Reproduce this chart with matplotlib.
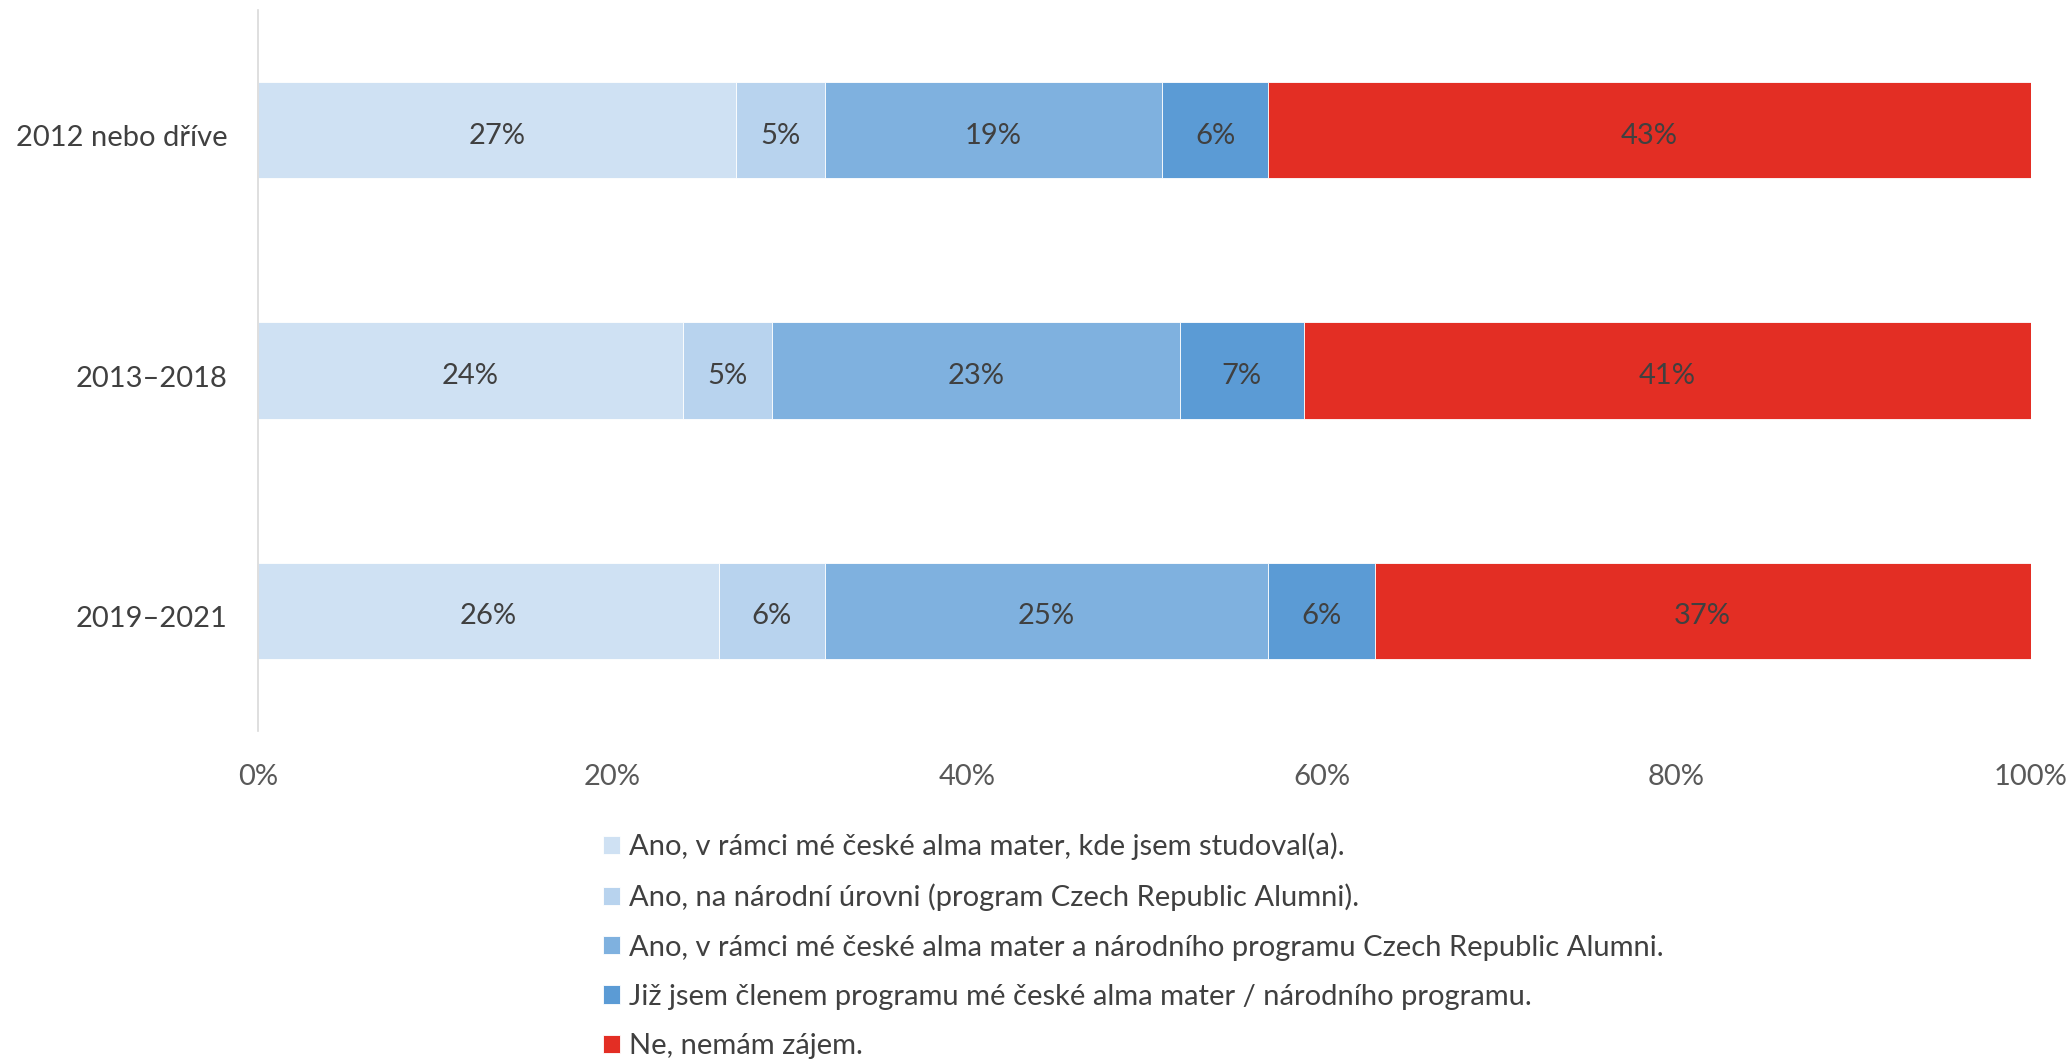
import numpy as np
import matplotlib.pyplot as plt
from matplotlib.transforms import ScaledTranslation

plt.rcParams['font.family'] = ['Lato', 'DejaVu Sans']

# kohorty absolventů (shora dolů)
kohorty = ['2012 nebo dříve', '2013–2018', '2019–2021']

odpovedi = [
    'Ano, v rámci mé české alma mater, kde jsem studoval(a).',
    'Ano, na národní úrovni (program Czech Republic Alumni).',
    'Ano, v rámci mé české alma mater a národního programu Czech Republic Alumni.',
    'Již jsem členem programu mé české alma mater / národního programu.',
    'Ne, nemám zájem.',
]

# podíly odpovědí v % pro každou kohortu
alma_mater = [27, 24, 26]
narodni = [5, 5, 6]
oboje = [19, 23, 25]
uz_clenem = [6, 7, 6]
nezajem = [43, 41, 37]

barvy = ['#CFE1F3', '#B8D3EE', '#7FB1DF', '#5B9BD5', '#E32E24']

serie = [alma_mater, narodni, oboje, uz_clenem, nezajem]

fig = plt.figure(figsize=(20.72, 10.6), dpi=100)
ax = fig.add_axes([0.1244, 0.3104, 0.8556, 0.6802])

# popisky o kousek níž, aby seděly opticky uprostřed pruhu
posun = ScaledTranslation(0, -4 / 72, fig.dpi_scale_trans)

y = np.arange(len(kohorty))
vlevo = np.zeros(len(kohorty))
for hodnoty, barva, popis in zip(serie, barvy, odpovedi):
    hodnoty = np.array(hodnoty, dtype=float)
    ax.barh(y, hodnoty, left=vlevo, height=0.4, color=barva,
            edgecolor='white', linewidth=0.6, label=popis)
    for yi, l, h in zip(y, vlevo, hodnoty):
        ax.text(l + h / 2, yi, f'{h:.0f}%', ha='center', va='center',
                fontsize=21, color='#404040', transform=ax.transData + posun)
    vlevo += hodnoty

ax.set_xlim(0, 100)
ax.set_ylim(len(kohorty) - 0.5, -0.5)
ax.set_yticks(y)
ax.set_yticklabels(kohorty, fontsize=21, color='#404040')
ax.set_xticks(np.arange(0, 101, 20))
ax.set_xticklabels([f'{v}%' for v in range(0, 101, 20)], fontsize=21, color='#595959')
ax.tick_params(axis='both', length=0)
ax.tick_params(axis='y', pad=22)
ax.tick_params(axis='x', pad=24)
for t in ax.get_yticklabels():
    t.set_transform(t.get_transform() + posun)

for s in ['top', 'right', 'bottom']:
    ax.spines[s].set_visible(False)
ax.spines['left'].set_color('#D9D9D9')
ax.spines['left'].set_linewidth(1.2)

fig.legend(loc='upper left', bbox_to_anchor=(0.291, 0.2145), frameon=False,
           fontsize=21, handlelength=0.6, handleheight=0.6, handletextpad=0.3,
           labelspacing=0.80, borderpad=0, borderaxespad=0, labelcolor='#404040')

fig.savefig('out.png', dpi=100)
